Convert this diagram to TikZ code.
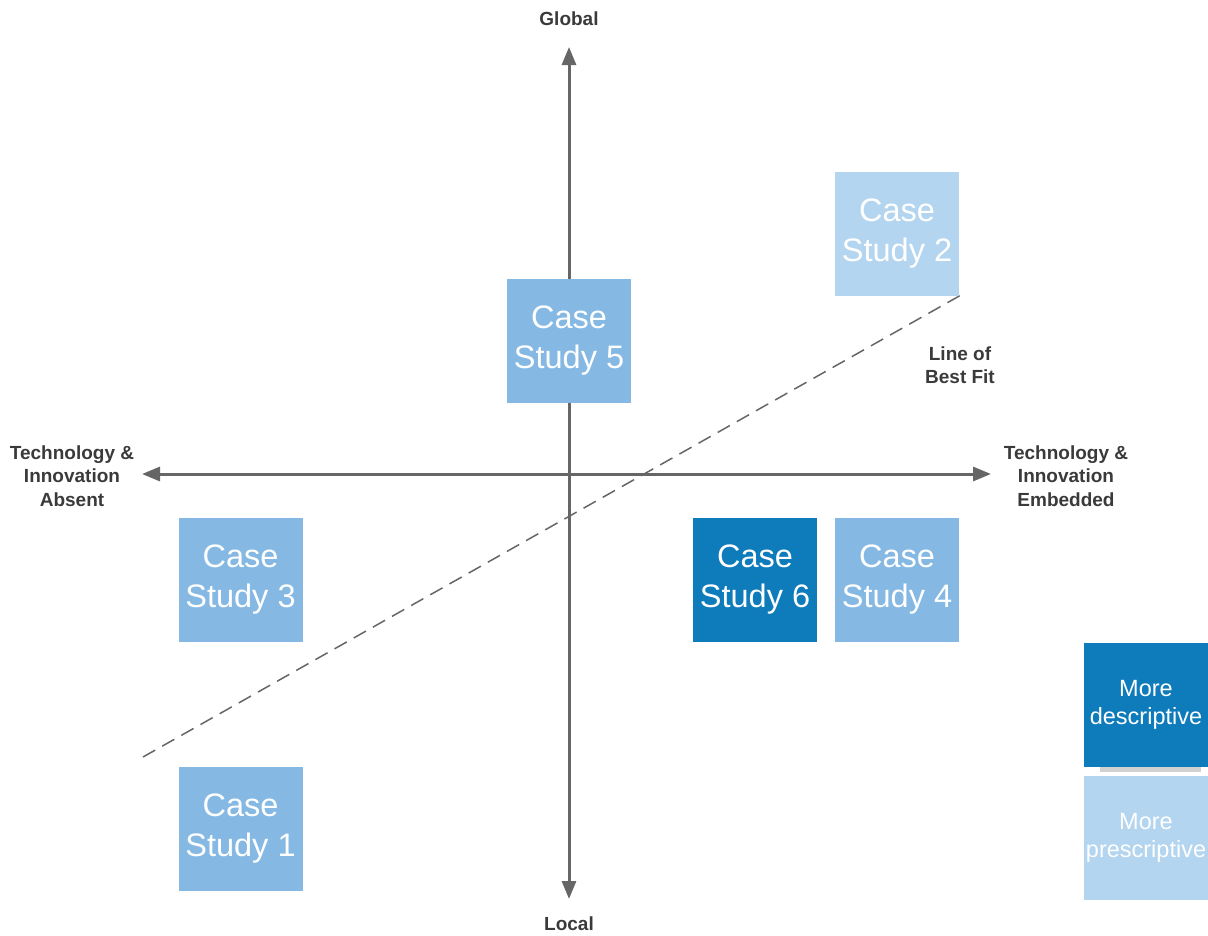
\documentclass[tikz,border=0pt]{standalone}
\usepackage{fontspec}
\setmainfont{Liberation Sans}
\usetikzlibrary{arrows.meta}
\definecolor{axisgray}{HTML}{666666}
\definecolor{txtgray}{HTML}{3A3A3A}
\definecolor{midblue}{HTML}{85B9E3}
\definecolor{lightblue}{HTML}{B3D5EF}
\definecolor{darkblue}{HTML}{0E7BBB}
\tikzset{
  axis/.style={draw=axisgray, line width=3pt, -{Triangle[length=18pt,width=14pt]}},
  axislabel/.style={font=\fontsize{19}{23.5}\selectfont\bfseries, text=txtgray, align=center, inner sep=0pt},
  casebox/.style={minimum width=124pt, minimum height=124pt, inner sep=0pt, text=white, align=center,
    font=\fontsize{32.5}{40}\selectfont},
  legendbox/.style={minimum width=124pt, minimum height=124pt, inner sep=0pt, text=white, align=center,
    font=\fontsize{23.5}{28}\selectfont},
  fitline/.style={draw=axisgray, line width=1.5pt, dash pattern=on 14pt off 8pt}
}
\begin{document}
\begin{tikzpicture}[x=1pt,y=-1pt]
\useasboundingbox (0,0) rectangle (1208,935);
% axes
\coordinate (top) at (569,47);
\coordinate (bot) at (569,899);
\coordinate (left) at (142,474);
\coordinate (right) at (991,474);
\coordinate (vmid) at (569,474);
\draw[axis] (vmid) -- (top);
\draw[axis] (vmid) -- (bot);
\draw[axis] (vmid) -- (left);
\draw[axis] (vmid) -- (right);
% best fit line
\coordinate (fitA) at (143,757);
\coordinate (fitB) at (961,295);
\draw[fitline] (fitA) -- (fitB);
% labels
\node[axislabel] (global) at (569,19) {Global};
\node[axislabel] (local) at (569,924) {Local};
\node[axislabel] (absent) at (72,476) {Technology \&\\Innovation\\Absent};
\node[axislabel] (embedded) at (1066,476) {Technology \&\\Innovation\\Embedded};
\node[axislabel] (bestfit) at (960,365) {Line of\\Best Fit};
% case boxes
\node[casebox, fill=midblue] (cs5) at (569,341) {Case\\Study 5};
\node[casebox, fill=lightblue] (cs2) at (897,234) {Case\\Study 2};
\node[casebox, fill=midblue] (cs3) at (240.5,580) {Case\\Study 3};
\node[casebox, fill=darkblue] (cs6) at (755,580) {Case\\Study 6};
\node[casebox, fill=midblue] (cs4) at (897,580) {Case\\Study 4};
\node[casebox, fill=midblue] (cs1) at (240.5,829) {Case\\Study 1};
% legend
\fill[black!18] (1100,766) rectangle (1201,772);
\node[legendbox, fill=darkblue] (desc) at (1146,705) {More\\descriptive};
\node[legendbox, fill=lightblue] (pres) at (1146,838) {More\\prescriptive};
\end{tikzpicture}
\end{document}
